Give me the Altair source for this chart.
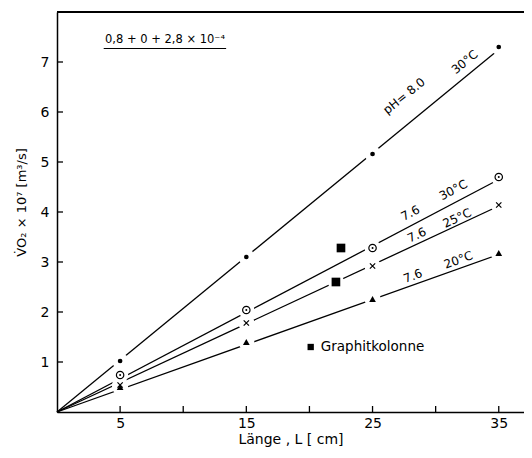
import altair as alt
import pandas as pd

# ---- data ----
L_cm = [5, 15, 25, 35]
v_ph80_30 = [1.02, 3.10, 5.16, 7.30]
v_76_30 = [0.74, 2.04, 3.28, 4.70]
v_76_25 = [0.54, 1.78, 2.92, 4.14]
v_76_20 = [0.50, 1.40, 2.26, 3.18]
graphit_L = [22.5, 22.1]
graphit_v = [3.28, 2.60]
# fitted straight lines through the origin (value at L = 35 cm)
line_L = [0, 35]
line_end = {"ph80_30": 7.25, "76_30": 4.65, "76_25": 4.12, "76_20": 3.15}
x_tick_vals = [5, 10, 15, 20, 25, 30, 35]
x_label_vals = [5, 15, 25, 35]
y_label_vals = [1, 2, 3, 4, 5, 6, 7]

FONT = "DejaVu Sans"
W, H = 467, 400
xs = alt.Scale(domain=[0, 37], nice=False, zero=True)
ys = alt.Scale(domain=[0, 8], nice=False, zero=True)

X_AXIS = alt.Axis(values=x_label_vals, ticks=False, grid=False,
                  domainColor="black", domainWidth=1.5, labelFontSize=14, labelPadding=4,
                  labelColor="black", labelFont=FONT, title="Länge , L [ cm]", titleFont=FONT,
                  titleFontSize=14, titleFontWeight="normal", titlePadding=2, titleColor="black")
Y_AXIS = alt.Axis(values=y_label_vals, ticks=False, grid=False,
                  domainColor="black", domainWidth=1.5, labelFontSize=14, labelPadding=8,
                  labelColor="black", labelFont=FONT, title="V̇O₂ × 10⁷ [m³/s]", titleFont=FONT,
                  titleFontSize=13, titleFontWeight="normal", titleAngle=270, titleX=-36,
                  titleY=190, titleAlign="center", titleBaseline="middle", titleColor="black")

rows = []
for k, e in line_end.items():
    rows.append({"series": k, "L": line_L[0], "V": 0.0})
    rows.append({"series": k, "L": line_L[1], "V": e})
lines_df = pd.DataFrame(rows)

def pts(vals):
    return pd.DataFrame({"L": L_cm, "V": vals})

graph_df = pd.DataFrame({"L": graphit_L, "V": graphit_v})
all_pts = pd.concat([pts(v_ph80_30), pts(v_76_30), pts(v_76_25), pts(v_76_20), graph_df])

X = lambda: alt.X("L:Q", scale=xs, axis=X_AXIS)
Y = lambda: alt.Y("V:Q", scale=ys, axis=Y_AXIS)

lines = alt.Chart(lines_df).mark_line(color="black", strokeWidth=1.3).encode(
    x=X(), y=Y(), detail="series:N")

halo = alt.Chart(all_pts).mark_point(filled=True, color="white", opacity=1, size=260).encode(x=X(), y=Y())

dots = alt.Chart(pts(v_ph80_30)).mark_point(filled=True, color="black", opacity=1, size=22, shape="circle").encode(x=X(), y=Y())
circ = alt.Chart(pts(v_76_30)).mark_point(filled=False, color="black", opacity=1, size=55, strokeWidth=1.2, shape="circle").encode(x=X(), y=Y())
circ_c = alt.Chart(pts(v_76_30)).mark_point(filled=True, color="black", opacity=1, size=4, shape="circle").encode(x=X(), y=Y())
cross = alt.Chart(pts(v_76_25)).mark_point(filled=False, color="black", opacity=1, size=28, strokeWidth=1.2,
                                           shape="M-1,-1L1,1M-1,1L1,-1").encode(x=X(), y=Y())
tri = alt.Chart(pts(v_76_20)).mark_point(filled=True, color="black", opacity=1, size=45, shape="triangle-up").encode(x=X(), y=Y())
sq = alt.Chart(graph_df).mark_point(filled=True, color="black", opacity=1, size=75, shape="square").encode(x=X(), y=Y())

# inward ticks
xt = alt.Chart(pd.DataFrame({"L": x_tick_vals})).mark_rule(color="black", strokeWidth=1.3).encode(
    x=X(), y=alt.value(H), y2=alt.value(H - 6))
yt = alt.Chart(pd.DataFrame({"V": y_label_vals})).mark_rule(color="black", strokeWidth=1.3).encode(
    y=Y(), x=alt.value(0), x2=alt.value(6))
top = alt.Chart(pd.DataFrame({"V": [8]})).mark_rule(color="black", strokeWidth=1.8).encode(
    y=Y(), x=alt.value(0), x2=alt.value(W))

# labels on the lines
labels = [
    ("pH= 8.0", 27.5, 6.32, 321),
    ("30°C", 32.3, 7.00, 321),
    ("7.6", 28.0, 3.98, 332),
    ("30°C", 31.4, 4.44, 332),
    ("7.6", 28.5, 3.54, 335),
    ("25°C", 31.7, 3.88, 335),
    ("7.6", 28.2, 2.72, 340),
    ("20°C", 31.8, 3.04, 340),
]
text_layers = []
for t, lx, ly, ang in labels:
    text_layers.append(
        alt.Chart(pd.DataFrame({"L": [lx], "V": [ly], "t": [t]})).mark_text(
            angle=ang, font=FONT, fontSize=12, color="black", align="center", baseline="middle"
        ).encode(x=X(), y=Y(), text="t:N")
    )

formula = alt.Chart(pd.DataFrame({"L": [3.8], "V": [7.44], "t": ["0,8 + 0 + 2,8 × 10⁻⁴"]})).mark_text(
    font=FONT, fontSize=11.5, color="black", align="left", baseline="middle").encode(x=X(), y=Y(), text="t:N")
underline = alt.Chart(pd.DataFrame({"L": [3.7], "L2": [13.4], "V": [7.27]})).mark_rule(color="black", strokeWidth=1.2).encode(
    x=X(), x2="L2:Q", y=Y())

leg_sq = alt.Chart(pd.DataFrame({"L": [20.1], "V": [1.3]})).mark_point(
    filled=True, color="black", opacity=1, size=40, shape="square").encode(x=X(), y=Y())
leg_txt = alt.Chart(pd.DataFrame({"L": [20.9], "V": [1.3], "t": ["Graphitkolonne"]})).mark_text(
    font=FONT, fontSize=13.5, color="black", align="left", baseline="middle").encode(x=X(), y=Y(), text="t:N")

chart = alt.layer(
    lines, halo, dots, circ, circ_c, cross, tri, sq, xt, yt, top,
    *text_layers, formula, underline, leg_sq, leg_txt
).properties(
    width=W, height=H,
    autosize=alt.AutoSizeParams(type="none"),
    padding={"left": 49, "top": 4, "right": 0, "bottom": 38},
    background="white",
).configure_view(stroke=None)

chart.save("out.html", embed_options={"renderer": "svg", "actions": False})
